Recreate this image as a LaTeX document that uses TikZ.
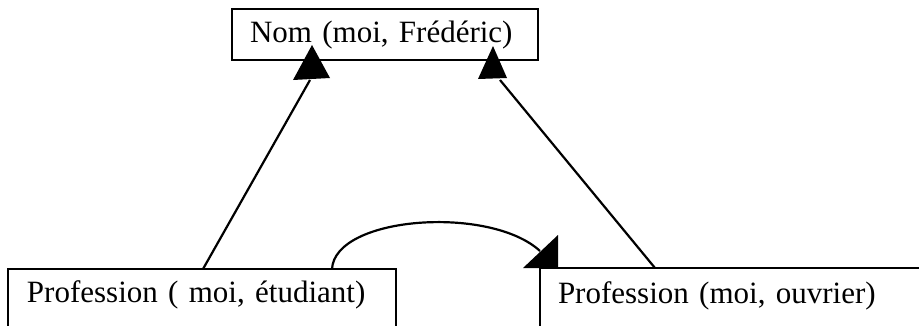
\documentclass[tikz,border=0pt]{standalone}
\usepackage{fontspec}
\setmainfont{Liberation Serif}
\usetikzlibrary{calc}
\begin{document}
\begin{tikzpicture}[x=1pt,y=-1pt,
  fact/.style={draw, line width=2.2pt, outer sep=0pt, inner ysep=11pt,
    align=left, anchor=base west, text height=22pt,
    font=\fontsize{31}{34}\selectfont},
  link/.style={line width=2.2pt},
  head/.style={fill=black}]
  \useasboundingbox (0,0) rectangle (919,325);
  \clip (0,0) rectangle (919,325);

  % predicate boxes
  \node[fact, inner xsep=18pt, text width=270pt, text depth=7pt]
    (nom) at (232,42) {Nom (moi, Frédéric)};
  \node[fact, inner xsep=19pt, text width=350pt, text depth=50pt]
    (etu) at (8,302) {Profession ( moi, étudiant)};
  \node[fact, inner xsep=18pt, text width=400pt, text depth=50pt, text height=24pt]
    (ouv) at (540,303) {Profession (moi, ouvrier)};

  % left link: étudiant -> Nom
  \coordinate (s1) at ($(etu.north west)+(195,0)$);
  \coordinate (e1) at ($(nom.south west)+(78,20)$);
  \draw[link] (s1) -- (e1);
  \fill[head] ($(nom.south west)+(80,-15)$) -- ($(nom.south west)+(61,20)$)
    -- ($(nom.south west)+(98,18)$) -- cycle;

  % right link: ouvrier -> Nom
  \coordinate (s2) at ($(ouv.north west)+(115,0)$);
  \coordinate (e2) at ($(nom.south east)+(-38,20)$);
  \draw[link] (s2) -- (e2);
  \fill[head] ($(nom.south east)+(-45,-14)$) -- ($(nom.south east)+(-60,19)$)
    -- ($(nom.south east)+(-31,18)$) -- cycle;

  % curved link: étudiant -> ouvrier
  \coordinate (s3) at ($(etu.north west)+(324,0)$);
  \coordinate (e3) at ($(ouv.north west)+(0,-17)$);
  \draw[link] (s3) .. controls ($(s3)+(3,-53)$) and ($(e3)+(-50,-46)$) .. (e3);
  \fill[head] ($(ouv.north west)+(18,0)$) -- ($(ouv.north west)+(18,-33)$)
    -- ($(ouv.north west)+(-17,0)$) -- cycle;
\end{tikzpicture}
\end{document}
